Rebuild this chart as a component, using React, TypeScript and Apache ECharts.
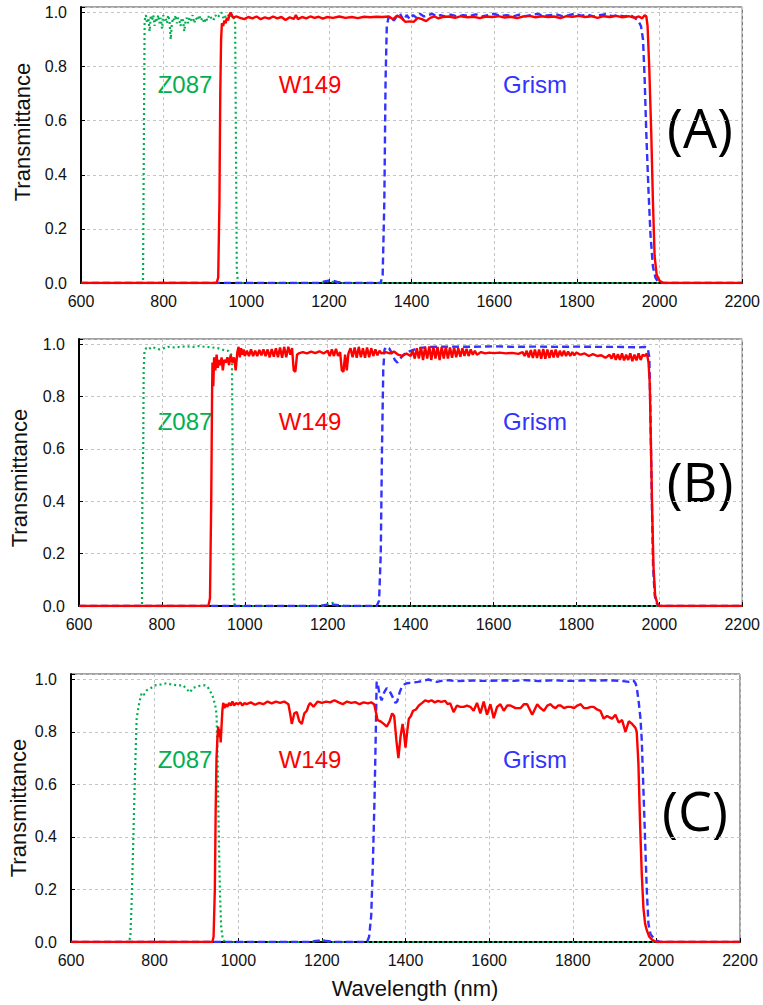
import React, { useEffect, useRef } from 'react';
import * as echarts from 'echarts';

// ---------- Data (wavelength nm, transmittance) ----------
const xTickValues = [600, 800, 1000, 1200, 1400, 1600, 1800, 2000, 2200];
const yTickValues = [0.0, 0.2, 0.4, 0.6, 0.8, 1.0];
const filterNames = ['Z087', 'W149', 'Grism'];
const panelLabels = ['(A)', '(B)', '(C)'];

// Panel A
const zA: number[][] = [[600,0],[750,0],[752,0.5],[754,0.97],[757,0.99],[760,0.96],[763,0.98],[766,0.93],[769,0.99],[772,0.97],[775,0.99],[778,0.95],[781,0.98],[784,0.97],[787,0.99],[790,0.96],[793,0.98],[796,0.94],[799,0.99],[802,0.97],[805,0.98],[808,0.96],[811,0.99],[814,0.97],[817,0.9],[820,0.96],[823,0.98],[826,0.97],[829,0.99],[832,0.96],[835,0.98],[838,0.97],[841,0.95],[844,0.98],[847,0.97],[850,0.93],[853,0.97],[856,0.98],[859,0.96],[862,0.98],[866,0.97],[870,0.99],[874,0.96],[878,0.98],[882,0.97],[886,0.99],[890,0.97],[894,0.98],[898,0.96],[902,0.98],[906,0.97],[910,0.99],[915,0.98],[920,0.97],[925,0.99],[930,0.98],[935,0.99],[940,1.0],[944,0.98],[948,0.99],[952,0.97],[956,0.99],[960,0.98],[965,0.99],[970,0.98],[973,0.97],[975,0.5],[977,0.05],[980,0],[1180,0],[1195,0.006],[1210,0.004],[1225,0],[2200,0]];
const wA: number[][] = [[600,0],[928,0],[932,0.02],[935,0.3],[937,0.7],[939,0.9],[941,0.96],[944,0.95],[947,0.97],[950,0.96],[953,0.98],[956,0.97],[959,0.99],[962,1.0],[965,0.99],[968,0.98],[975,0.985],[985,0.98],[995,0.975],[1005,0.983],[1015,0.978],[1025,0.985],[1035,0.975],[1045,0.982],[1055,0.977],[1065,0.985],[1075,0.978],[1085,0.983],[1095,0.972],[1105,0.982],[1115,0.976],[1120,0.99],[1125,0.975],[1135,0.983],[1145,0.978],[1155,0.985],[1165,0.98],[1175,0.984],[1185,0.977],[1195,0.983],[1210,0.98],[1225,0.985],[1240,0.98],[1255,0.983],[1270,0.979],[1285,0.984],[1300,0.982],[1315,0.984],[1330,0.983],[1345,0.985],[1355,0.975],[1365,0.988],[1375,0.98],[1385,0.965],[1395,0.967],[1405,0.965],[1415,0.98],[1425,0.975],[1435,0.968],[1445,0.98],[1455,0.985],[1465,0.978],[1475,0.983],[1490,0.985],[1505,0.98],[1520,0.986],[1535,0.982],[1550,0.984],[1565,0.979],[1580,0.985],[1595,0.983],[1610,0.986],[1625,0.981],[1640,0.984],[1655,0.979],[1670,0.985],[1685,0.987],[1700,0.982],[1715,0.986],[1730,0.983],[1745,0.985],[1760,0.979],[1775,0.986],[1790,0.984],[1805,0.987],[1820,0.983],[1835,0.986],[1850,0.98],[1865,0.986],[1880,0.983],[1895,0.987],[1910,0.982],[1925,0.986],[1940,0.98],[1950,0.985],[1958,0.978],[1964,0.99],[1968,0.985],[1971,0.95],[1975,0.8],[1980,0.55],[1984,0.3],[1988,0.1],[1993,0.03],[2000,0.008],[2010,0],[2200,0]];
const gA: number[][] = [[600,0],[1175,0],[1190,0.006],[1205,0.01],[1220,0.004],[1240,0],[1325,0],[1330,0.03],[1334,0.3],[1337,0.75],[1340,0.95],[1344,0.98],[1350,0.985],[1357,0.97],[1364,0.985],[1372,0.995],[1381,0.97],[1388,0.99],[1396,0.975],[1404,0.99],[1412,0.98],[1420,0.995],[1430,0.985],[1440,0.99],[1450,0.995],[1460,0.985],[1470,0.99],[1480,0.985],[1495,0.992],[1510,0.985],[1525,0.99],[1540,0.987],[1555,0.993],[1570,0.985],[1585,0.99],[1600,0.995],[1615,0.987],[1630,0.99],[1645,0.985],[1660,0.992],[1675,0.986],[1690,0.99],[1705,0.995],[1720,0.987],[1735,0.99],[1750,0.993],[1765,0.986],[1780,0.99],[1795,0.995],[1810,0.988],[1825,0.992],[1840,0.985],[1855,0.99],[1870,0.993],[1885,0.986],[1900,0.99],[1915,0.985],[1930,0.99],[1940,0.98],[1948,0.97],[1955,0.95],[1960,0.9],[1964,0.75],[1968,0.55],[1973,0.35],[1978,0.18],[1984,0.06],[1990,0.02],[1996,0.005],[2002,0],[2200,0]];

// Panel B
const zB: number[][] = [[600,0],[752,0],[753,0.5],[755,0.6],[756,0.9],[758,0.975],[762,0.985],[768,0.98],[775,0.99],[785,0.985],[795,0.98],[805,0.985],[815,0.99],[830,0.988],[845,0.99],[860,0.992],[875,0.99],[890,0.993],[905,0.99],[920,0.988],[935,0.985],[945,0.98],[953,0.975],[960,0.975],[966,0.965],[969,0.95],[971,0.5],[973,0.05],[976,0],[1190,0],[1200,0.008],[1212,0.012],[1222,0.003],[1230,0],[2200,0]];
const wB: number[][] = [[600,0],[912,0],[916,0.03],[919,0.4],[921,0.8],[922,0.93],[924,0.84],[926,0.95],[929,0.9],[932,0.96],[935,0.91],[938,0.94],[941,0.92],[944,0.95],[947,0.9],[950,0.94],[954,0.93],[958,0.95],[962,0.92],[966,0.96],[970,0.93],[974,0.95],[978,0.9],[982,0.97],[985,0.99],[988,0.95],[991,0.985],[994,0.96],[997,0.98],[1000,0.955],[1005,0.975],[1010,0.955],[1015,0.98],[1020,0.955],[1025,0.975],[1030,0.955],[1035,0.978],[1040,0.958],[1045,0.98],[1050,0.955],[1055,0.98],[1060,0.95],[1065,0.982],[1070,0.952],[1075,0.985],[1080,0.95],[1085,0.988],[1090,0.948],[1095,0.99],[1100,0.95],[1105,0.99],[1110,0.96],[1114,0.985],[1118,0.9],[1122,0.895],[1126,0.96],[1130,0.965],[1140,0.97],[1150,0.965],[1160,0.972],[1170,0.966],[1180,0.973],[1190,0.965],[1200,0.975],[1205,0.955],[1210,0.98],[1215,0.955],[1220,0.982],[1225,0.955],[1230,0.97],[1234,0.9],[1238,0.895],[1242,0.96],[1246,0.9],[1250,0.965],[1255,0.985],[1260,0.95],[1265,0.988],[1270,0.948],[1275,0.99],[1280,0.95],[1285,0.985],[1290,0.948],[1295,0.988],[1300,0.95],[1305,0.985],[1310,0.955],[1315,0.98],[1320,0.958],[1325,0.975],[1330,0.965],[1340,0.97],[1350,0.965],[1360,0.972],[1370,0.96],[1380,0.955],[1390,0.965],[1400,0.955],[1405,0.975],[1410,0.945],[1415,0.985],[1420,0.945],[1425,0.99],[1430,0.94],[1435,0.99],[1440,0.945],[1445,0.992],[1450,0.94],[1455,0.99],[1460,0.945],[1465,0.99],[1470,0.94],[1475,0.99],[1480,0.945],[1485,0.99],[1490,0.945],[1495,0.988],[1500,0.948],[1505,0.988],[1510,0.95],[1515,0.985],[1520,0.952],[1525,0.985],[1530,0.955],[1535,0.982],[1540,0.955],[1545,0.98],[1550,0.96],[1555,0.975],[1560,0.96],[1570,0.97],[1580,0.965],[1590,0.968],[1600,0.966],[1615,0.968],[1630,0.965],[1645,0.967],[1660,0.963],[1670,0.97],[1675,0.955],[1680,0.975],[1685,0.95],[1690,0.978],[1695,0.948],[1700,0.98],[1705,0.948],[1710,0.98],[1715,0.945],[1720,0.982],[1725,0.945],[1730,0.98],[1735,0.948],[1740,0.978],[1745,0.95],[1750,0.98],[1755,0.95],[1760,0.975],[1765,0.955],[1770,0.975],[1775,0.955],[1780,0.972],[1785,0.955],[1790,0.97],[1795,0.958],[1800,0.968],[1810,0.96],[1820,0.965],[1830,0.955],[1840,0.962],[1850,0.955],[1860,0.958],[1870,0.948],[1880,0.96],[1885,0.945],[1890,0.965],[1895,0.94],[1900,0.962],[1905,0.94],[1910,0.965],[1915,0.938],[1920,0.96],[1925,0.94],[1930,0.965],[1935,0.935],[1940,0.96],[1945,0.938],[1950,0.965],[1955,0.94],[1960,0.96],[1965,0.955],[1970,0.965],[1974,0.93],[1977,0.85],[1980,0.6],[1983,0.35],[1986,0.15],[1990,0.04],[1995,0.01],[2000,0],[2200,0]];
const gB: number[][] = [[600,0],[1180,0],[1195,0.004],[1210,0.006],[1225,0.003],[1240,0],[1318,0],[1324,0.02],[1328,0.2],[1331,0.6],[1334,0.9],[1337,0.98],[1342,0.99],[1348,0.985],[1355,0.965],[1362,0.94],[1368,0.93],[1375,0.945],[1383,0.96],[1392,0.97],[1400,0.975],[1410,0.98],[1420,0.985],[1435,0.988],[1450,0.99],[1500,0.991],[1550,0.99],[1600,0.992],[1650,0.99],[1700,0.991],[1750,0.99],[1800,0.991],[1850,0.99],[1900,0.99],[1950,0.988],[1965,0.99],[1972,0.985],[1976,0.95],[1979,0.7],[1982,0.4],[1985,0.15],[1989,0.04],[1994,0.01],[2000,0],[2200,0]];

// Panel C
const zC: number[][] = [[600,0],[738,0],[742,0.02],[745,0.15],[749,0.39],[753,0.64],[757,0.85],[762,0.9],[766,0.93],[769,0.947],[774,0.94],[781,0.958],[790,0.965],[801,0.977],[815,0.98],[829,0.985],[840,0.98],[853,0.977],[868,0.977],[878,0.96],[885,0.95],[890,0.965],[897,0.97],[908,0.975],[920,0.977],[927,0.97],[932,0.958],[940,0.93],[945,0.9],[948,0.87],[950,0.75],[953,0.45],[956,0.2],[959,0.06],[963,0.01],[968,0],[1175,0],[1190,0.004],[1205,0.006],[1220,0],[2200,0]];
const wC: number[][] = [[600,0],[938,0],[941,0.02],[944,0.2],[946,0.5],[948,0.7],[950,0.77],[952,0.82],[954,0.78],[956,0.81],[958,0.76],[960,0.82],[962,0.88],[964,0.91],[967,0.89],[970,0.905],[974,0.895],[978,0.91],[982,0.9],[986,0.915],[990,0.9],[995,0.91],[1000,0.905],[1005,0.912],[1010,0.9],[1015,0.91],[1020,0.905],[1030,0.912],[1040,0.903],[1050,0.91],[1060,0.905],[1070,0.915],[1080,0.908],[1090,0.915],[1100,0.91],[1110,0.915],[1120,0.905],[1124,0.87],[1128,0.83],[1134,0.87],[1140,0.875],[1146,0.84],[1152,0.83],[1158,0.87],[1164,0.88],[1168,0.9],[1172,0.91],[1180,0.895],[1190,0.915],[1200,0.91],[1210,0.915],[1220,0.912],[1230,0.92],[1240,0.912],[1250,0.905],[1260,0.915],[1270,0.91],[1280,0.913],[1290,0.905],[1300,0.912],[1310,0.908],[1318,0.912],[1325,0.905],[1330,0.87],[1333,0.845],[1340,0.84],[1348,0.83],[1355,0.82],[1362,0.84],[1368,0.87],[1373,0.86],[1378,0.77],[1383,0.7],[1388,0.78],[1393,0.83],[1396,0.8],[1400,0.74],[1404,0.8],[1408,0.85],[1413,0.86],[1418,0.88],[1425,0.885],[1432,0.9],[1440,0.91],[1447,0.92],[1455,0.915],[1462,0.92],[1470,0.912],[1478,0.918],[1485,0.914],[1495,0.918],[1500,0.906],[1507,0.908],[1515,0.875],[1523,0.9],[1531,0.895],[1539,0.895],[1547,0.9],[1555,0.895],[1563,0.88],[1571,0.91],[1579,0.87],[1587,0.915],[1595,0.865],[1603,0.905],[1611,0.852],[1619,0.895],[1627,0.905],[1635,0.88],[1643,0.9],[1651,0.9],[1663,0.89],[1675,0.89],[1683,0.905],[1691,0.905],[1703,0.865],[1715,0.905],[1723,0.89],[1731,0.88],[1739,0.9],[1747,0.905],[1753,0.895],[1759,0.89],[1765,0.9],[1771,0.9],[1779,0.89],[1787,0.895],[1795,0.895],[1803,0.89],[1811,0.9],[1819,0.905],[1827,0.89],[1835,0.89],[1843,0.895],[1850,0.895],[1858,0.885],[1866,0.88],[1874,0.85],[1882,0.86],[1888,0.855],[1894,0.85],[1902,0.865],[1910,0.835],[1918,0.845],[1926,0.8],[1934,0.84],[1942,0.83],[1950,0.815],[1953,0.8],[1957,0.68],[1961,0.45],[1965,0.26],[1969,0.13],[1973,0.07],[1977,0.045],[1983,0.02],[1990,0.008],[2000,0],[2200,0]];
const gC: number[][] = [[600,0],[1170,0],[1185,0.004],[1200,0.006],[1215,0.003],[1230,0],[1308,0],[1313,0.02],[1318,0.1],[1322,0.3],[1326,0.55],[1329,0.8],[1331,0.99],[1334,0.98],[1338,0.94],[1343,0.92],[1349,0.95],[1355,0.966],[1362,0.955],[1370,0.93],[1376,0.91],[1380,0.915],[1386,0.95],[1391,0.97],[1397,0.98],[1403,0.985],[1415,0.987],[1430,0.99],[1445,0.995],[1455,0.999],[1465,0.994],[1475,0.99],[1490,0.995],[1505,0.996],[1520,0.993],[1540,0.994],[1560,0.995],[1580,0.994],[1600,0.994],[1620,0.995],[1640,0.996],[1660,0.994],[1680,0.997],[1700,0.995],[1720,0.993],[1740,0.995],[1760,0.996],[1780,0.994],[1800,0.994],[1820,0.995],[1840,0.996],[1860,0.995],[1880,0.996],[1900,0.995],[1920,0.993],[1935,0.99],[1945,0.996],[1950,0.985],[1953,0.97],[1958,0.91],[1962,0.85],[1965,0.77],[1969,0.58],[1973,0.39],[1977,0.2],[1981,0.07],[1986,0.03],[1993,0.015],[2000,0.005],[2010,0],[2200,0]];

const panels = [
  { z: zA, w: wA, g: gA },
  { z: zB, w: wB, g: gB },
  { z: zC, w: wC, g: gC },
];

// ---------- Layout / style ----------
const FONT = '"Liberation Sans", Arial, Helvetica, sans-serif';
const GREEN = '#00b050';
const RED = '#ff0000';
const BLUE = '#3333ff';

const gridBoxes = [
  { left: 81, top: 7, width: 663, height: 276 },
  { left: 79, top: 339, width: 665, height: 267 },
  { left: 71, top: 674, width: 669, height: 268 },
];
const yTitlePos = [[22, 132], [19, 478], [18, 808]];
const namePosY = [83, 420, 758];
const nameX = [185, 310, 535];
const letterPos = [[700, 127], [700, 481], [695, 810]];

function buildOption() {
  const grid = gridBoxes.map((g) => ({
    ...g,
    show: true,
    borderColor: '#444',
    borderWidth: 1,
    backgroundColor: 'transparent',
  }));
  const xAxis = gridBoxes.map((_, i) => ({
    type: 'value',
    gridIndex: i,
    min: xTickValues[0],
    max: xTickValues[xTickValues.length - 1],
    interval: 200,
    axisLine: { show: true, onZero: false, lineStyle: { color: '#000', width: 2 } },
    axisTick: { show: true, inside: true, length: 4, lineStyle: { color: '#000', width: 1 } },
    axisLabel: {
      fontSize: 16, color: '#111', fontFamily: FONT, margin: 10,
      formatter: (v: number) => {
        const hit = xTickValues.find((t) => Math.abs(t - v) < 1e-6);
        return hit === undefined ? '' : String(hit);
      },
    },
    splitLine: { show: true, lineStyle: { color: '#c4c4c4', width: 1, type: [3, 3] } },
  }));
  const yAxis = gridBoxes.map((_, i) => ({
    type: 'value',
    gridIndex: i,
    min: 0,
    max: 1.02,
    interval: 0.2,
    axisLine: { show: true, onZero: false, lineStyle: { color: '#000', width: 2 } },
    axisTick: { show: true, inside: true, length: 4, lineStyle: { color: '#000', width: 1 } },
    axisLabel: {
      fontSize: 16,
      color: '#111',
      fontFamily: FONT,
      margin: 14,
      formatter: (v: number) => {
        const hit = yTickValues.find((t) => Math.abs(t - v) < 1e-6);
        return hit === undefined ? '' : hit.toFixed(1);
      },
    },
    splitLine: { show: true, lineStyle: { color: '#c4c4c4', width: 1, type: [3, 3] } },
  }));
  const series: any[] = [];
  panels.forEach((p, i) => {
    series.push({
      type: 'line', xAxisIndex: i, yAxisIndex: i, data: p.z, showSymbol: false, symbol: 'none',
      lineStyle: { color: GREEN, width: 2.2, type: [2, 3] }, z: 3,
    });
    series.push({
      type: 'line', xAxisIndex: i, yAxisIndex: i, data: p.g, showSymbol: false, symbol: 'none',
      lineStyle: { color: BLUE, width: 2.4, type: [7, 4] }, z: 4,
    });
    series.push({
      type: 'line', xAxisIndex: i, yAxisIndex: i, data: p.w, showSymbol: false, symbol: 'none',
      lineStyle: { color: RED, width: 2.4 }, z: 5,
    });
  });

  const graphic: any[] = [];
  gridBoxes.forEach((_, i) => {
    graphic.push({
      type: 'text', x: yTitlePos[i][0], y: yTitlePos[i][1], rotation: Math.PI / 2,
      style: { text: 'Transmittance', fontSize: 22, fontFamily: FONT, fill: '#111', align: 'center', verticalAlign: 'middle' },
    });
    const colors = [GREEN, RED, BLUE];
    filterNames.forEach((n, k) => {
      graphic.push({
        type: 'text', x: nameX[k], y: namePosY[i] + 1,
        style: { text: n, fontSize: 24, fontFamily: FONT, fill: colors[k], align: 'center', verticalAlign: 'middle' },
      });
    });
    graphic.push({
      type: 'text', x: letterPos[i][0], y: letterPos[i][1],
      style: { text: panelLabels[i], fontSize: 54, fontFamily: '"Open Sans", "Noto Sans", sans-serif', fill: '#000', align: 'center', verticalAlign: 'middle' },
    });
  });
  graphic.push({
    type: 'text', x: 415, y: 988,
    style: { text: 'Wavelength (nm)', fontSize: 22, fontFamily: FONT, fill: '#111', align: 'center', verticalAlign: 'middle' },
  });

  return {
    animation: false,
    backgroundColor: '#fff',
    grid,
    xAxis,
    yAxis,
    series,
    graphic,
  };
}

export default function App() {
  const ref = useRef<HTMLDivElement>(null);
  useEffect(() => {
    if (!ref.current) return;
    const chart = echarts.init(ref.current, null, { renderer: 'svg' });
    chart.setOption(buildOption() as any);
    return () => chart.dispose();
  }, []);
  return (
    <div
      ref={ref}
      style={{ position: 'absolute', left: 0, top: 0, width: 763, height: 1005, background: '#fff' }}
    />
  );
}
